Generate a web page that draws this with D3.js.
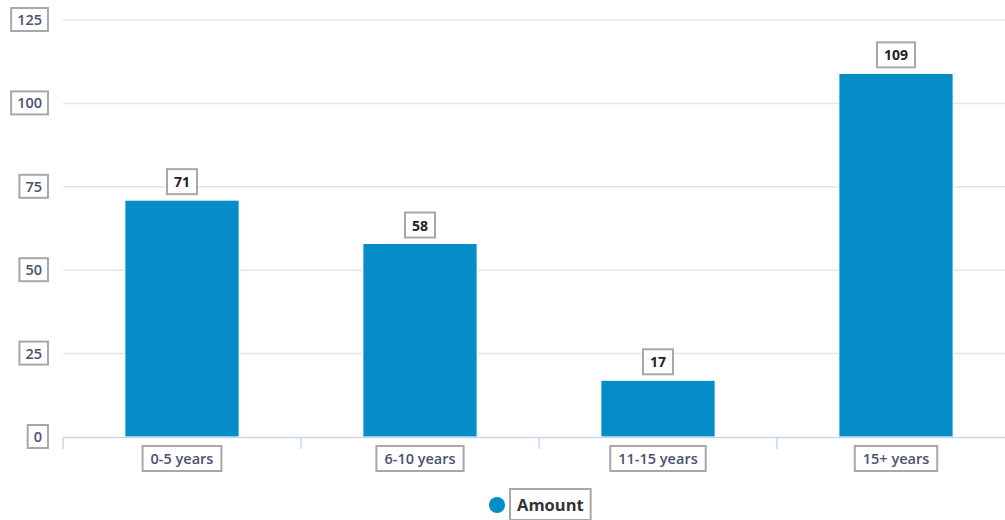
<!DOCTYPE html>
<html>
<head>
<meta charset="utf-8">
<script src="https://cdn.jsdelivr.net/npm/d3@7"></script>
<style>
  body { margin: 0; background: #fff; }
  text { font-family: "Open Sans", sans-serif; }
</style>
</head>
<body>
<svg id="chart" width="1005" height="520"></svg>
<script>
const categories = ["0-5 years", "6-10 years", "11-15 years", "15+ years"];
const amounts = [71, 58, 17, 109];
const yTicks = [0, 25, 50, 75, 100, 125];
const seriesName = "Amount";

const svg = d3.select("#chart");
const margin = { top: 20, left: 63, bottom: 83 };
const plotBottom = 520 - margin.bottom;

const x = d3.scaleBand()
    .domain(categories)
    .range([margin.left, 1015])
    .paddingInner(0.52)
    .paddingOuter(0.26);

const y = d3.scaleLinear()
    .domain([0, 125])
    .range([plotBottom, margin.top]);

// put a grey box round a text node
function boxText(textSel, padX, padY) {
    const b = textSel.node().getBBox();
    textSel.each(function () {
        d3.select(this.parentNode).insert("rect", () => this)
            .attr("x", b.x - padX)
            .attr("y", b.y - padY)
            .attr("width", b.width + padX * 2)
            .attr("height", b.height + padY * 2)
            .attr("fill", "#fff")
            .attr("stroke", "#a8a8a8")
            .attr("stroke-width", 2);
    });
}

// grid lines
svg.append("g")
    .selectAll("line")
    .data(yTicks.filter(d => d > 0))
    .join("line")
    .attr("x1", margin.left)
    .attr("x2", 1005)
    .attr("y1", d => y(d))
    .attr("y2", d => y(d))
    .attr("stroke", "#e6e6e6")
    .attr("stroke-width", 1.5);

// y labels
yTicks.forEach(t => {
    const g = svg.append("g");
    const txt = g.append("text")
        .attr("x", 42)
        .attr("y", y(t) + 5)
        .attr("text-anchor", "end")
        .attr("fill", "#4a5270")
        .style("font-size", "14.5px")
        .style("font-weight", "600")
        .text(t);
    boxText(txt, 6, 2);
});

// bars
svg.append("g")
    .selectAll("rect")
    .data(amounts)
    .join("rect")
    .attr("x", (d, i) => x(categories[i]))
    .attr("y", d => y(d))
    .attr("width", x.bandwidth())
    .attr("height", d => plotBottom - y(d))
    .attr("fill", "#058dc7")
    .attr("stroke", "#ffffff")
    .attr("stroke-width", 1);

// x axis line and ticks
svg.append("line")
    .attr("x1", margin.left)
    .attr("x2", 1005)
    .attr("y1", plotBottom + 0.5)
    .attr("y2", plotBottom + 0.5)
    .attr("stroke", "#ccd6eb")
    .attr("stroke-width", 1.5);

svg.append("g")
    .selectAll("line")
    .data(categories)
    .join("line")
    .attr("x1", d => x(d) - (x.step() - x.bandwidth()) / 2)
    .attr("x2", d => x(d) - (x.step() - x.bandwidth()) / 2)
    .attr("y1", plotBottom)
    .attr("y2", plotBottom + 12)
    .attr("stroke", "#ccd6eb")
    .attr("stroke-width", 1.5);

// x labels
categories.forEach(c => {
    const g = svg.append("g");
    const txt = g.append("text")
        .attr("x", x(c) + x.bandwidth() / 2)
        .attr("y", plotBottom + 27)
        .attr("text-anchor", "middle")
        .attr("fill", "#4a5270")
        .style("font-size", "14.5px")
        .style("font-weight", "600")
        .text(c);
    boxText(txt, 8, 3);
});

// value labels
amounts.forEach((v, i) => {
    const g = svg.append("g");
    const txt = g.append("text")
        .attr("x", x(categories[i]) + x.bandwidth() / 2)
        .attr("y", y(v) - 13)
        .attr("text-anchor", "middle")
        .attr("fill", "#222")
        .style("font-size", "14px")
        .style("font-weight", "bold")
        .text(v);
    boxText(txt, 7, 3);
});

// legend
const legend = svg.append("g");
legend.append("circle")
    .attr("cx", 497)
    .attr("cy", 505)
    .attr("r", 8)
    .attr("fill", "#058dc7");
const legText = legend.append("text")
    .attr("x", 517)
    .attr("y", 511)
    .attr("fill", "#333")
    .style("font-size", "16.5px")
    .style("font-weight", "bold")
    .text(seriesName);
boxText(legText, 7, 4);
</script>
</body>
</html>
